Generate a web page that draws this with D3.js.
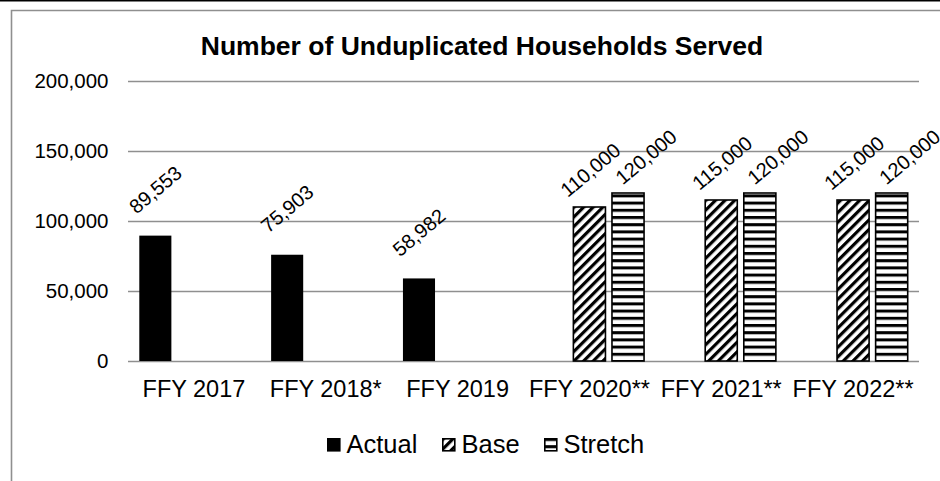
<!DOCTYPE html>
<html>
<head>
<meta charset="utf-8">
<script src="https://cdn.jsdelivr.net/npm/d3@7"></script>
<style>
   body { margin: 0; background: #fff; }
   svg { display: block; font-family: 'Liberation Sans', Arial, sans-serif; }
</style>
</head>
<body>
<div id="chart"></div>
<script>

// CHART DATA
var categories = ['FFY 2017', 'FFY 2018*', 'FFY 2019', 'FFY 2020**', 'FFY 2021**', 'FFY 2022**'];
var series = ['Actual', 'Base', 'Stretch'];
var actual = [89553, 75903, 58982, null, null, null];
var base = [null, null, null, 110000, 115000, 115000];
var stretch = [null, null, null, 120000, 120000, 120000];
var yTicks = [0, 50000, 100000, 150000, 200000];
var title = 'Number of Unduplicated Households Served';

// SETTINGS OBJECT
var settings = {
   width: 940,
   height: 481,
   plot: { left: 128, right: 919, top: 81, bottom: 361 },
   grid: '#8f8f8f',
   frame: '#8f8f8f',
   // LABEL NUDGES PER SERIES (ROTATED LABELS SIT ABOVE THE BAR)
   labelShift: {
      Actual: { dx: 0, dy: -46 },
      Base: { dx: 1, dy: -37 },
      Stretch: { dx: 18, dy: -36 }
   }
}

// SERIES VALUES BY NAME
var values = { Actual: actual, Base: base, Stretch: stretch };

// GENERATE CANVAS
var svg = d3.select('#chart').append('svg')
   .attr('width', settings.width)
   .attr('height', settings.height)

// PATTERNS FOR FORECAST BARS
var defs = svg.append('defs');

var diag = defs.append('pattern')
   .attr('id', 'diag')
   .attr('patternUnits', 'userSpaceOnUse')
   .attr('width', 6.8)
   .attr('height', 6.8)
   .attr('patternTransform', 'rotate(45)')
diag.append('rect').attr('width', 6.8).attr('height', 6.8).attr('fill', '#fff')
diag.append('rect').attr('width', 3.2).attr('height', 6.8).attr('fill', '#000')

var horiz = defs.append('pattern')
   .attr('id', 'horiz')
   .attr('patternUnits', 'userSpaceOnUse')
   .attr('width', 8)
   .attr('height', 7.2)
horiz.append('rect').attr('width', 8).attr('height', 7.2).attr('fill', '#fff')
horiz.append('rect').attr('width', 8).attr('height', 3).attr('fill', '#000')

var fills = { Actual: '#000', Base: 'url(#diag)', Stretch: 'url(#horiz)' };
var strokes = { Actual: 'none', Base: '#000', Stretch: '#000' };

// TOP RULE AND CHART FRAME
svg.append('rect')
   .attr('x', 0).attr('y', 0)
   .attr('width', settings.width).attr('height', 1.5)
   .attr('fill', '#000')

svg.append('path')
   .attr('d', 'M11.5,' + settings.height + 'V10.5H' + settings.width)
   .attr('fill', 'none')
   .attr('stroke', settings.frame)
   .attr('stroke-width', 1.6)

// TITLE
svg.append('text')
   .attr('x', 482)
   .attr('y', 55)
   .attr('text-anchor', 'middle')
   .attr('font-size', '26.5px')
   .attr('font-weight', 'bold')
   .attr('fill', '#000')
   .text(title)

// SCALES
var x0 = d3.scaleBand()
   .domain(categories)
   .range([settings.plot.left, settings.plot.right])
   .paddingInner(0.171)
   .paddingOuter(0.0857)

var x1 = d3.scaleBand()
   .domain(series)
   .range([0, x0.bandwidth()])
   .paddingInner(0.169)

var y = d3.scaleLinear()
   .domain([0, 200000])
   .range([settings.plot.bottom, settings.plot.top])

// Y AXIS WITH GRIDLINES
var yAxis = svg.append('g')
   .attr('transform', 'translate(' + settings.plot.left + ',0)')
   .call(d3.axisLeft(y)
      .tickValues(yTicks)
      .tickFormat(d3.format(','))
      .tickSize(-(settings.plot.right - settings.plot.left))
      .tickPadding(19.5))

yAxis.select('.domain').remove()
yAxis.selectAll('.tick line')
   .attr('stroke', settings.grid)
   .attr('stroke-width', 1.6)
yAxis.selectAll('.tick text')
   .attr('font-size', '20.5px')
   .attr('fill', '#000')
   .attr('font-family', null)

// X AXIS LABELS
var xAxis = svg.append('g')
   .attr('transform', 'translate(0,' + settings.plot.bottom + ')')
   .call(d3.axisBottom(x0).tickSize(0).tickPadding(19.5))

xAxis.select('.domain').remove()
xAxis.selectAll('.tick text')
   .attr('font-size', '23.5px')
   .attr('fill', '#000')
   .attr('font-family', null)

// FLATTEN BARS
var bars = [];
series.forEach(function (s) {
   values[s].forEach(function (v, i) {
      if (v != null) bars.push({ series: s, category: categories[i], value: v });
   });
});

// DRAW BARS
svg.selectAll('rect.bar').data(bars).enter()
   .append('rect')
   .attr('class', 'bar')
   .attr('x', function (d) { return x0(d.category) + x1(d.series); })
   .attr('y', function (d) { return y(d.value); })
   .attr('width', x1.bandwidth())
   .attr('height', function (d) { return y(0) - y(d.value); })
   .attr('fill', function (d) { return fills[d.series]; })
   .attr('stroke', function (d) { return strokes[d.series]; })
   .attr('stroke-width', 1.6)

// ROTATED DATA LABELS
svg.selectAll('text.value').data(bars).enter()
   .append('text')
   .attr('class', 'value')
   .attr('transform', function (d) {
      var shift = settings.labelShift[d.series];
      var cx = x0(d.category) + x1(d.series) + x1.bandwidth() / 2 + shift.dx;
      var cy = y(d.value) + shift.dy;
      return 'translate(' + cx + ',' + cy + ') rotate(-40)';
   })
   .attr('text-anchor', 'middle')
   .attr('dominant-baseline', 'central')
   .attr('font-size', '20px')
   .attr('fill', '#000')
   .text(function (d) { return d3.format(',')(d.value); })

// LEGEND
var legendX = { Actual: 327, Base: 442, Stretch: 544 };
var legend = svg.selectAll('g.legend').data(series).enter()
   .append('g')
   .attr('class', 'legend')
   .attr('transform', function (d) { return 'translate(' + legendX[d] + ',438)'; })

legend.append('rect')
   .attr('x', 0.8).attr('y', 0.8)
   .attr('width', 12).attr('height', 12)
   .attr('fill', function (d) { return fills[d]; })
   .attr('stroke', '#000')
   .attr('stroke-width', 1.6)

legend.append('text')
   .attr('x', 19.5)
   .attr('y', 15.3)
   .attr('font-size', '25.5px')
   .attr('fill', '#000')
   .text(function (d) { return d; })

</script>
</body>
</html>
